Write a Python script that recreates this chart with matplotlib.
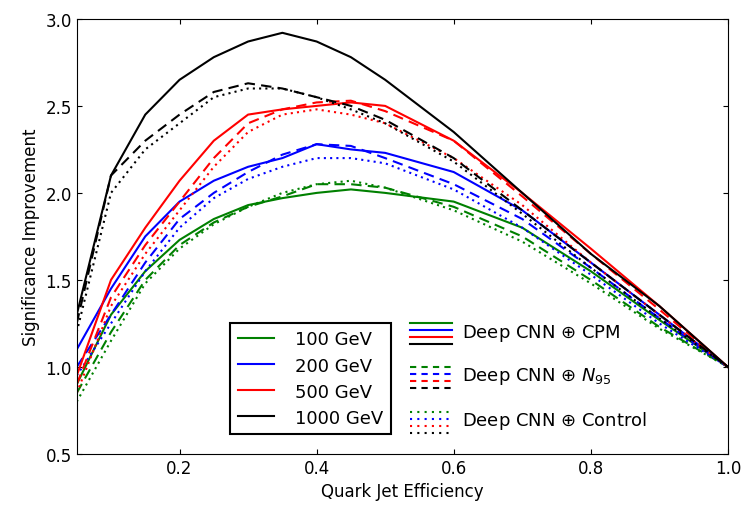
import matplotlib
matplotlib.use("Agg")
import matplotlib.pyplot as plt
from matplotlib.lines import Line2D

x = [0.05,0.1,0.15,0.2,0.25,0.3,0.35,0.4,0.45,0.5,0.6,0.7,0.8,0.9,1.0]
energies = ["100 GeV","200 GeV","500 GeV","1000 GeV"]
colors = ["green","blue","red","black"]
cpm = {
 "1000 GeV":[1.3,2.1,2.45,2.65,2.78,2.87,2.92,2.87,2.78,2.65,2.35,2.0,1.65,1.35,1.0],
 "500 GeV":[0.95,1.5,1.8,2.07,2.3,2.45,2.48,2.5,2.52,2.5,2.3,2.0,1.68,1.35,1.0],
 "200 GeV":[1.1,1.45,1.75,1.95,2.07,2.15,2.2,2.28,2.25,2.23,2.12,1.9,1.6,1.3,1.0],
 "100 GeV":[0.9,1.3,1.55,1.73,1.85,1.93,1.97,2.0,2.02,2.0,1.95,1.8,1.55,1.27,1.0],
}
n95 = {
 "1000 GeV":[1.25,2.1,2.3,2.45,2.58,2.63,2.6,2.55,2.5,2.42,2.2,1.9,1.6,1.3,1.0],
 "500 GeV":[0.9,1.4,1.7,1.95,2.2,2.4,2.48,2.52,2.53,2.47,2.3,1.98,1.65,1.33,1.0],
 "200 GeV":[1.0,1.3,1.6,1.85,2.0,2.12,2.22,2.28,2.27,2.2,2.05,1.85,1.57,1.28,1.0],
 "100 GeV":[0.85,1.2,1.5,1.7,1.83,1.92,1.98,2.05,2.05,2.03,1.92,1.75,1.5,1.23,1.0],
}
control = {
 "1000 GeV":[1.2,2.0,2.25,2.4,2.55,2.6,2.6,2.55,2.48,2.4,2.18,1.88,1.57,1.28,1.0],
 "500 GeV":[0.85,1.35,1.65,1.9,2.15,2.35,2.45,2.48,2.45,2.4,2.2,1.93,1.6,1.3,1.0],
 "200 GeV":[0.95,1.25,1.55,1.8,1.97,2.08,2.15,2.2,2.2,2.17,2.02,1.8,1.53,1.25,1.0],
 "100 GeV":[0.8,1.15,1.48,1.68,1.82,1.92,2.0,2.05,2.07,2.03,1.9,1.72,1.48,1.22,1.0],
}
methods = ["Deep CNN $\\oplus$ CPM","Deep CNN $\\oplus$ $N_{95}$","Deep CNN $\\oplus$ Control"]

fig = plt.figure(figsize=(7.45,5.1),dpi=100)
ax = fig.add_axes([0.103,0.108,0.874,0.853])
for e,c in zip(energies,colors):
    ax.plot(x,cpm[e],color=c,lw=1.5,ls="-")
    ax.plot(x,n95[e],color=c,lw=1.5,ls=(0,(5,3)))
    ax.plot(x,control[e],color=c,lw=1.5,ls=(0,(1,2)))
ax.set_xlim(0.05,1.0); ax.set_ylim(0.5,3.0)
ax.set_xticks([0.2,0.4,0.6,0.8,1.0])
ax.set_xlabel("Quark Jet Efficiency",fontsize=12)
ax.set_ylabel("Significance Improvement",fontsize=12)
ax.tick_params(labelsize=12,direction="in",top=True,right=True)
h=[Line2D([],[],color=c,lw=1.5) for c in colors]
leg=ax.legend(h,energies,loc="lower left",bbox_to_anchor=(0.222,0.025),fontsize=13,
              fancybox=False,edgecolor="black",framealpha=1,handlelength=2,borderpad=0.4,
              handletextpad=1.2,labelspacing=0.45)
leg.get_frame().set_linewidth(1.5)
rows=[(0.27,"-"),(0.17,(0,(3,2.5))),(0.067,(0,(1,2.5)))]
for (yc,ls),m in zip(rows,methods):
    for i,c in enumerate(colors):
        yy=yc+0.03-i*0.016
        ax.plot([0.512,0.577],[yy,yy],transform=ax.transAxes,color=c,lw=1.5,ls=ls,clip_on=False)
    ax.text(0.592,yc+0.01,m,transform=ax.transAxes,fontsize=13,va="center")
fig.savefig("out.png")
